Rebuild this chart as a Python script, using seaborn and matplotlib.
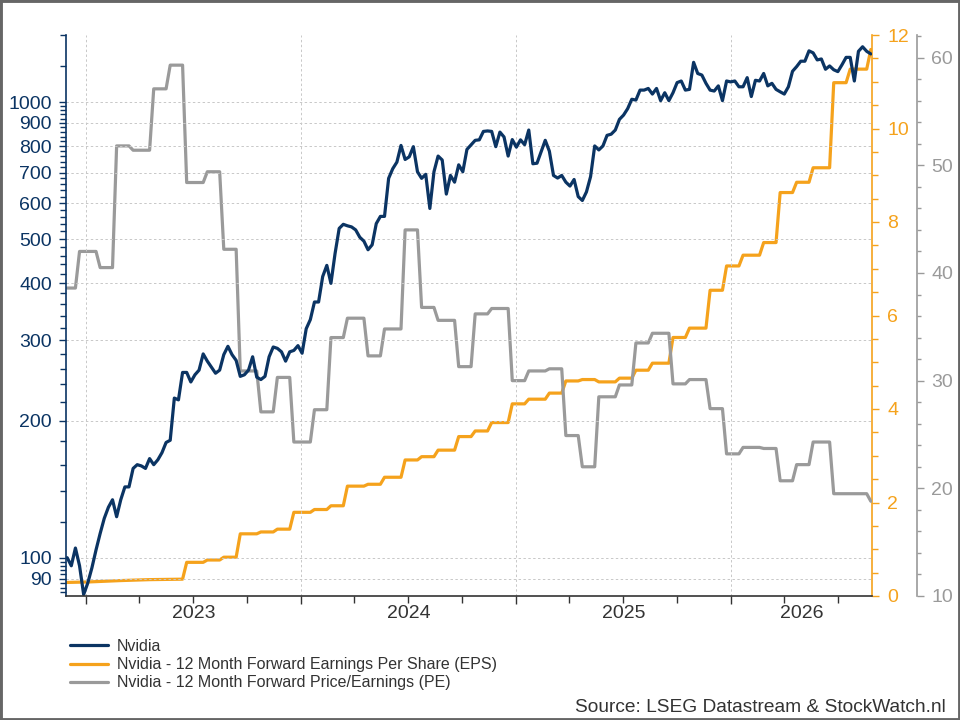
import matplotlib
matplotlib.use('Agg')
import matplotlib.pyplot as plt
import matplotlib.ticker as mticker
import matplotlib.dates as mdates
import matplotlib.transforms as mtransforms
from matplotlib.patches import Rectangle
import seaborn as sns
import numpy as np
import pandas as pd

# weekly data, week 0 = first observation
START = pd.Timestamp('2022-11-30')

nvidia_price = [
    100, 96, 105, 96, 83, 88, 95, 104, 113, 122, 129, 134, 123, 134, 143, 143,
    157, 160, 159, 157, 165, 160, 164, 170, 179, 181, 224, 222, 255, 255, 243, 252,
    258, 280, 270, 262, 254, 258, 279, 291, 279, 271, 250, 252, 258, 276, 249, 246,
    250, 276, 290, 288, 283, 270, 283, 285, 292, 281, 318, 333, 364, 364, 414, 438,
    400, 465, 528, 539, 535, 532, 524, 505, 495, 474, 486, 541, 561, 561, 680, 714,
    738, 803, 748, 758, 798, 703, 680, 694, 584, 703, 761, 746, 628, 690, 667, 728,
    703, 787, 805, 824, 826, 862, 864, 862, 798, 859, 838, 761, 827, 796, 826, 806,
    868, 732, 734, 778, 824, 780, 690, 681, 690, 667, 654, 676, 620, 608, 635, 686,
    801, 785, 801, 845, 850, 868, 916, 936, 967, 1014, 1010, 1062, 1062, 1071, 1041, 1071,
    1007, 1048, 1007, 1048, 1103, 1112, 1062, 1066, 1222, 1155, 1146, 1099, 1062, 1057, 1085, 1007,
    1112, 1107, 1112, 1080, 1080, 1131, 1028, 1116, 1112, 1155, 1085, 1099, 1066, 1053, 1041, 1080,
    1168, 1196, 1229, 1229, 1295, 1282, 1237, 1243, 1180, 1200, 1177, 1166, 1207, 1253, 1253, 1112,
    1292, 1322, 1292, 1275,
]

eps_weeks = [0, 5, 13, 20, 28, 29, 33, 34, 37, 38, 41, 42, 46, 47, 50, 51, 54, 55, 59, 60,
             63, 64, 67, 68, 72, 73, 76, 77, 81, 82, 85, 86, 89, 90, 94, 95, 98, 99, 102, 103,
             107, 108, 111, 112, 116, 117, 120, 121, 124, 125, 128, 129, 133, 134, 137, 138,
             141, 142, 146, 147, 150, 151, 155, 156, 159, 160, 163, 164, 168, 169, 172, 173,
             176, 177, 180, 181, 185, 186, 189, 190, 194, 195]
eps_values = [0.29, 0.30, 0.33, 0.35, 0.36, 0.72, 0.72, 0.77, 0.77, 0.83, 0.83, 1.33, 1.33, 1.37,
              1.37, 1.43, 1.43, 1.79, 1.79, 1.85, 1.85, 1.93, 1.93, 2.35, 2.35, 2.39, 2.39, 2.54,
              2.54, 2.91, 2.91, 2.98, 2.98, 3.12, 3.12, 3.41, 3.41, 3.53, 3.53, 3.71, 3.71, 4.11,
              4.11, 4.21, 4.21, 4.34, 4.34, 4.60, 4.60, 4.63, 4.63, 4.58, 4.58, 4.66, 4.66, 4.83,
              4.83, 4.98, 4.98, 5.53, 5.53, 5.73, 5.73, 6.54, 6.54, 7.06, 7.06, 7.29, 7.29, 7.56,
              7.56, 8.63, 8.63, 8.85, 8.85, 9.16, 9.16, 10.98, 10.98, 11.27, 11.27, 11.69]

pe_weeks = [0, 2, 3, 7, 8, 11, 12, 15, 16, 20, 21, 24, 25, 28, 29, 33, 34, 37, 38, 41,
            42, 46, 47, 50, 51, 54, 55, 59, 60, 63, 64, 67, 68, 72, 73, 76, 77, 81, 82, 85,
            86, 89, 90, 94, 95, 98, 99, 102, 103, 107, 108, 111, 112, 116, 117, 120, 121, 124,
            125, 128, 129, 133, 134, 137, 138, 141, 142, 146, 147, 150, 151, 155, 156, 159,
            160, 163, 164, 168, 169, 172, 173, 176, 177, 180, 181, 185, 186, 194, 195]
pe_values = [38.6, 38.6, 42.0, 42.0, 40.5, 40.5, 51.8, 51.8, 51.4, 51.4, 57.1, 57.1, 59.3, 59.3,
             48.4, 48.4, 49.4, 49.4, 42.2, 42.2, 30.9, 30.9, 27.1, 27.1, 30.3, 30.3, 24.3, 24.3,
             27.3, 27.3, 34.0, 34.0, 35.8, 35.8, 32.3, 32.3, 34.8, 34.8, 44.0, 44.0, 36.8, 36.8,
             35.6, 35.6, 31.3, 31.3, 36.2, 36.2, 36.7, 36.7, 30.0, 30.0, 30.9, 30.9, 31.1, 31.1,
             24.9, 24.9, 22.0, 22.0, 28.5, 28.5, 29.6, 29.6, 33.5, 33.5, 34.4, 34.4, 29.7, 29.7,
             30.1, 30.1, 27.4, 27.4, 23.2, 23.2, 23.8, 23.8, 23.7, 23.7, 20.7, 20.7, 22.2, 22.2,
             24.3, 24.3, 19.5, 19.5, 18.8]

year_labels = ['2023', '2024', '2025', '2026']
price_ticks = [90, 100, 200, 300, 400, 500, 600, 700, 800, 900, 1000]

NAVY = '#0b3463'
ORANGE = '#f5a21c'
GREY = '#9a9a9a'
TEXT = '#333333'
GRID = '#c8c8c8'


def to_dates(weeks):
    return START + pd.to_timedelta(np.asarray(weeks) * 7, unit='D')


sns.set_style('ticks')
plt.rcParams['font.family'] = ['Liberation Sans', 'DejaVu Sans']

nvda = pd.DataFrame({'date': to_dates(np.arange(len(nvidia_price))), 'value': nvidia_price})
eps = pd.DataFrame({'date': to_dates(eps_weeks), 'value': eps_values})
pe = pd.DataFrame({'date': to_dates(pe_weeks), 'value': pe_values})

fig = plt.figure(figsize=(9.6, 7.2), dpi=100, facecolor='white')
ax = fig.add_axes([66 / 960, 1 - 596 / 720, (872 - 66) / 960, (596 - 35) / 720])
ax2 = ax.twinx()
ax3 = ax.twinx()

sns.lineplot(data=nvda, x='date', y='value', ax=ax, color=NAVY, lw=2.3,
             label='Nvidia', sort=False, estimator=None)
sns.lineplot(data=eps, x='date', y='value', ax=ax2, color=ORANGE, lw=2.3,
             label='Nvidia - 12 Month Forward Earnings Per Share (EPS)', sort=False, estimator=None)
sns.lineplot(data=pe, x='date', y='value', ax=ax3, color=GREY, lw=2.3,
             label='Nvidia - 12 Month Forward Price/Earnings (PE)', sort=False, estimator=None)

handles, labels = [], []
for a in (ax, ax2, ax3):
    h, l = a.get_legend_handles_labels()
    handles += h
    labels += l
    if a.get_legend() is not None:
        a.get_legend().remove()
    a.set_xlabel('')
    a.set_ylabel('')

# navy line on top
ax.set_zorder(ax3.get_zorder() + 1)
ax.patch.set_visible(False)

# x axis
x0 = START - pd.Timedelta(days=2)
x1 = START + pd.Timedelta(days=1367)
ax.set_xlim(x0, x1)
ax.xaxis.set_major_locator(mdates.YearLocator())
ax.xaxis.set_minor_locator(mdates.MonthLocator(bymonth=[4, 7, 10]))
ax.xaxis.set_major_formatter(mticker.NullFormatter())
ax.tick_params(axis='x', which='major', length=6, width=1, color='#333333', direction='out')
ax.tick_params(axis='x', which='minor', length=5, width=1, color='#333333', direction='out')
ax.xaxis.grid(True, which='major', linestyle=(0, (2.5, 2.5)), color=GRID, lw=0.7)

trans = mtransforms.blended_transform_factory(ax.transData, ax.transAxes)
xl0, xl1 = ax.get_xlim()
for lab in year_labels:
    a0 = max(mdates.date2num(pd.Timestamp(f'{lab}-01-01')), xl0)
    a1 = min(mdates.date2num(pd.Timestamp(f'{int(lab) + 1}-01-01')), xl1)
    ax.text((a0 + a1) / 2, -0.031, lab, transform=trans, ha='center', va='center',
            fontsize=14, color=TEXT)

# left axis (log)
ax.set_yscale('log')
ax.set_ylim(82.4, 1403)
ax.yaxis.set_major_locator(mticker.FixedLocator(price_ticks))
ax.yaxis.set_major_formatter(mticker.FuncFormatter(lambda v, p: f'{v:.0f}'))
minor = list(np.arange(84, 100, 2)) + list(np.arange(120, 1000, 20)) + [1200, 1400]
minor = [m for m in minor if m not in price_ticks]
ax.yaxis.set_minor_locator(mticker.FixedLocator(minor))
ax.yaxis.set_minor_formatter(mticker.NullFormatter())
ax.tick_params(axis='y', which='major', length=5, width=1, colors=NAVY, labelsize=14,
               pad=5, direction='out')
ax.tick_params(axis='y', which='minor', length=4, width=1, colors=NAVY, direction='out')
ax.yaxis.grid(True, which='major', linestyle=(0, (2.5, 2.5)), color=GRID, lw=0.7)

# EPS axis
ax2.set_ylim(0, 12)
ax2.yaxis.set_major_locator(mticker.MultipleLocator(2))
ax2.yaxis.set_minor_locator(mticker.MultipleLocator(0.5))
ax2.tick_params(axis='y', which='major', length=5, width=1, colors=ORANGE, labelsize=14, pad=6)
ax2.tick_params(axis='y', which='minor', length=4, width=1, colors=ORANGE)

# PE axis
ax3.set_ylim(10, 62.1)
ax3.spines['right'].set_position(('axes', 1.056))
ax3.yaxis.set_major_locator(mticker.MultipleLocator(10))
ax3.yaxis.set_minor_locator(mticker.MultipleLocator(2))
ax3.tick_params(axis='y', which='major', length=5, width=1, colors=GREY, labelsize=14, pad=5)
ax3.tick_params(axis='y', which='minor', length=3, width=1, colors=GREY)

for a in (ax, ax2, ax3):
    for s in a.spines.values():
        s.set_visible(False)
ax.spines['left'].set_visible(True)
ax.spines['left'].set_color(NAVY)
ax.spines['bottom'].set_visible(True)
ax.spines['bottom'].set_color('#333333')
ax2.spines['right'].set_visible(True)
ax2.spines['right'].set_color(ORANGE)
ax3.spines['right'].set_visible(True)
ax3.spines['right'].set_color(GREY)
for s in (ax.spines['left'], ax.spines['bottom'], ax2.spines['right'], ax3.spines['right']):
    s.set_linewidth(1.2)

fig.legend(handles, labels, loc='upper left', bbox_to_anchor=(70 / 960, 1 - 639 / 720),
           frameon=False, fontsize=11.5, handlelength=2.4, handletextpad=0.55,
           labelspacing=0.2, borderpad=0, borderaxespad=0, labelcolor=TEXT)

fig.text(946 / 960, 1 - 708 / 720, 'Source: LSEG Datastream & StockWatch.nl',
         ha='right', va='center', fontsize=13.8, color=TEXT)

fig.patches.append(Rectangle((0, 0), 1, 1, transform=fig.transFigure, fill=False,
                             edgecolor='#666666', lw=3.5))

fig.savefig('out.png', dpi=100, facecolor='white')
